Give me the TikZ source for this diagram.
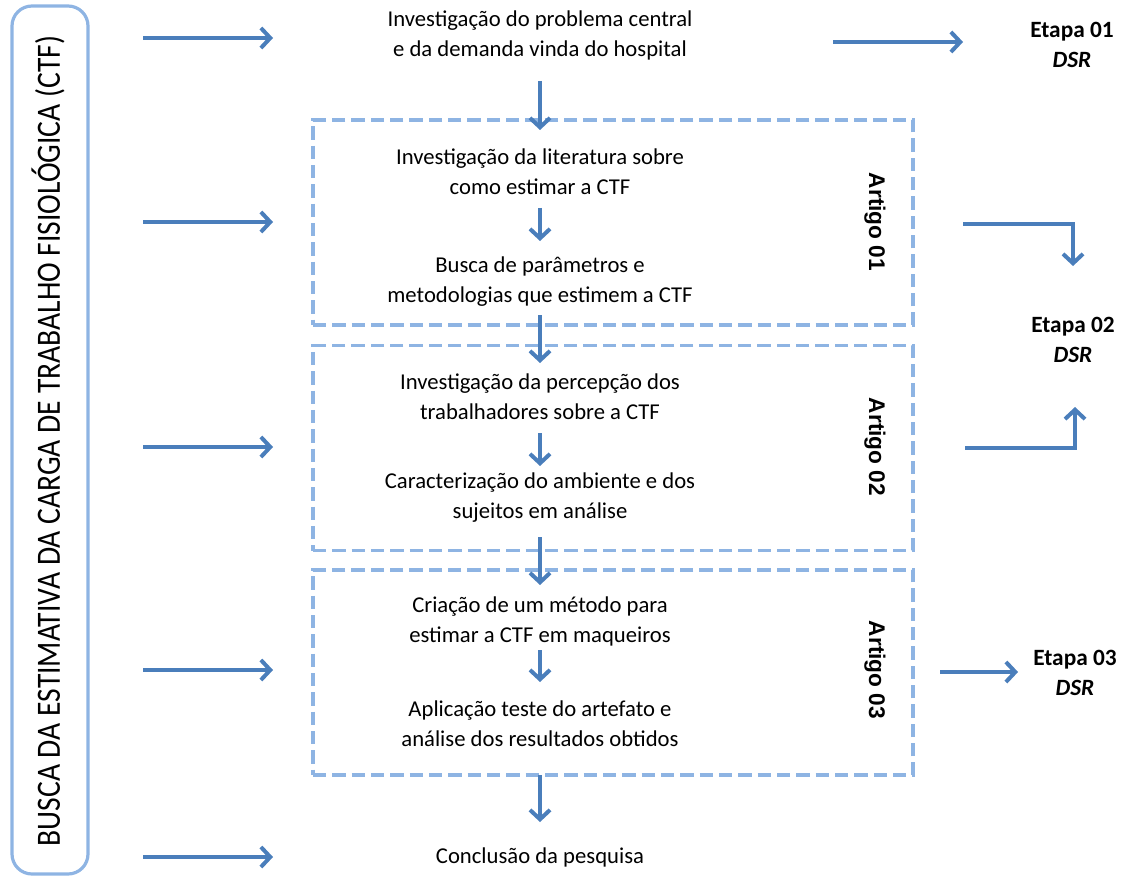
\documentclass[tikz,border=0pt]{standalone}
\usepackage{fontspec}
\setmainfont{Carlito}
\newfontfamily\condfont[FakeStretch=0.87]{Carlito}
\newfontfamily\arialfont{Liberation Sans}
\usetikzlibrary{arrows.meta}
\definecolor{arrowblue}{HTML}{4A7EBB}
\definecolor{lightblue}{HTML}{8EB4E3}
\begin{document}
\begin{tikzpicture}[x=0.75pt,y=-0.75pt,
  txt/.style={align=center,font=\fontsize{17}{22.5}\selectfont,inner sep=0pt},
  conn/.style={draw=arrowblue,line width=3pt,-{Straight Barb[length=7pt,width=15pt]}},
  dbox/.style={draw=lightblue,line width=2.6pt,dash pattern=on 10pt off 4.5pt,minimum width=450pt,minimum height=153.75pt,inner sep=0pt},
  artigo/.style={font=\arialfont\bfseries\fontsize{17}{20}\selectfont,rotate=-90,inner sep=0pt},
  etapa/.style={align=center,font=\bfseries\fontsize{17.5}{22.5}\selectfont,inner sep=0pt},
  sidebox/.style={draw=lightblue,line width=2.4pt,rounded corners=15pt,minimum width=57pt,minimum height=651pt,inner sep=0pt}
]
\useasboundingbox (0,0) rectangle (1130,877);

% left box and vertical text
\node[sidebox] (lb) at (50,440) {};
\node[rotate=90,font=\condfont\fontsize{25.5}{30}\selectfont,inner sep=0pt] (side) at (48,441) {BUSCA DA ESTIMATIVA DA CARGA DE TRABALHO FISIOLÓGICA (CTF)};

% dashed boxes
\node[dbox] (box1) at (613,222.5) {};
\node[dbox] (box2) at (613,448) {};
\node[dbox] (box3) at (613,672.5) {};

% texts
\node[txt] (t1) at (540,35) {Investigação do problema central\\e da demanda vinda do hospital};
\node[txt] (t2) at (540,172) {Investigação da literatura sobre\\como estimar a CTF};
\node[txt] (t3) at (540,282) {Busca de parâmetros e\\metodologias que estimem a CTF};
\node[txt] (t4) at (540,397) {Investigação da percepção dos\\trabalhadores sobre a CTF};
\node[txt] (t5) at (540,498) {Caracterização do ambiente e dos\\sujeitos em análise};
\node[txt] (t6) at (540,621) {Criação de um método para\\estimar a CTF em maqueiros};
\node[txt] (t7) at (540,724) {Aplicação teste do artefato e\\análise dos resultados obtidos};
\node[txt] (t8) at (540,857) {Conclusão da pesquisa};

% artigo labels
\node[artigo] (a1) at (875,222) {Artigo 01};
\node[artigo] (a2) at (875,447) {Artigo 02};
\node[artigo] (a3) at (875,670) {Artigo 03};

% etapa labels
\node[etapa] (e1) at (1072,45) {Etapa 01\\\textit{DSR}};
\node[etapa] (e2) at (1073,340) {Etapa 02\\\textit{DSR}};
\node[etapa] (e3) at (1075,673) {Etapa 03\\\textit{DSR}};

% coordinates for connector ends
\coordinate (l1a) at (143,38);  \coordinate (l1b) at (273,38);
\coordinate (l2a) at (143,222); \coordinate (l2b) at (273,222);
\coordinate (l3a) at (143,447); \coordinate (l3b) at (273,447);
\coordinate (l4a) at (143,670); \coordinate (l4b) at (273,670);
\coordinate (l5a) at (143,857); \coordinate (l5b) at (273,857);

\coordinate (d1a) at (540,81);  \coordinate (d1b) at (540,130);
\coordinate (d2a) at (540,208); \coordinate (d2b) at (540,241);
\coordinate (d3a) at (540,315); \coordinate (d3b) at (540,363);
\coordinate (d4a) at (540,433); \coordinate (d4b) at (540,466);
\coordinate (d5a) at (540,537); \coordinate (d5b) at (540,585);
\coordinate (d6a) at (540,650); \coordinate (d6b) at (540,682);
\coordinate (d7a) at (540,775); \coordinate (d7b) at (540,822);

\coordinate (r1a) at (833,42);  \coordinate (r1b) at (963,42);
\coordinate (r2a) at (963,224); \coordinate (r2b) at (1073,266);
\coordinate (r3a) at (965,448); \coordinate (r3b) at (1075,407);
\coordinate (r4a) at (940,672); \coordinate (r4b) at (1018,672);

% left arrows
\foreach \i in {1,...,5} \draw[conn] (l\i a) -- (l\i b);
% down arrows
\foreach \i in {1,...,7} \draw[conn] (d\i a) -- (d\i b);
% right arrows
\draw[conn] (r1a) -- (r1b);
\draw[conn] (r2a) -| (r2b);
\draw[conn] (r3a) -| (r3b);
\draw[conn] (r4a) -- (r4b);
\end{tikzpicture}
\end{document}
